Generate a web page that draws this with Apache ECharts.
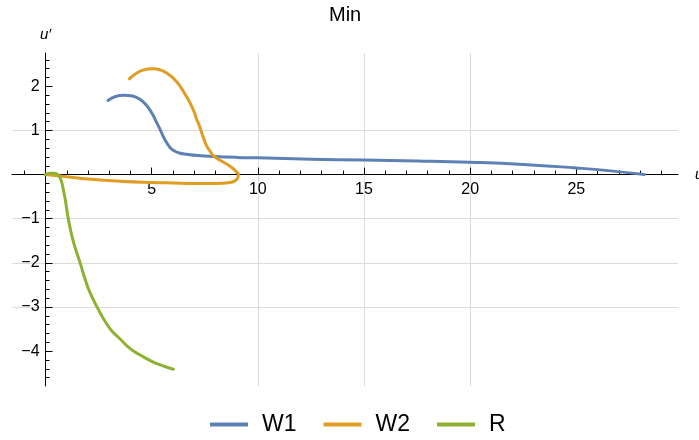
<!DOCTYPE html>
<html>
<head>
<meta charset="utf-8">
<script src="https://cdn.jsdelivr.net/npm/echarts@6/dist/echarts.min.js"></script>
<style>html,body{margin:0;padding:0;background:#fff}#c{width:699px;height:440px}</style>
</head>
<body>
<div id="c"></div>
<script>
// Data: [u, u'] pairs
const seriesNames = ['W1', 'W2', 'R'];
const w1 = [[2.94,1.68],[3.3,1.77],[3.67,1.80],[4.1,1.78],[4.46,1.70],[4.75,1.57],[5.0,1.40],[5.2,1.21],[5.4,1.02],[5.55,0.86],[5.71,0.72],[5.87,0.61],[6.05,0.54],[6.3,0.49],[6.65,0.46],[7.2,0.43],[7.9,0.41],[9,0.39],[10,0.38],[12.5,0.35],[15,0.33],[17.5,0.31],[20,0.28],[22.5,0.23],[25,0.15],[26.5,0.09],[28.2,0.0]];
const w2 = [[3.95,2.17],[4.4,2.33],[4.8,2.39],[5.1,2.40],[5.4,2.37],[5.71,2.30],[6.05,2.17],[6.34,2.0],[6.6,1.8],[6.81,1.62],[7.0,1.42],[7.12,1.25],[7.25,1.1],[7.36,0.94],[7.48,0.78],[7.6,0.64],[7.75,0.53],[7.9,0.43],[8.2,0.33],[8.53,0.24],[8.8,0.15],[8.98,0.07],[9.08,0.0],[9.02,-0.1],[8.7,-0.18],[8.0,-0.2],[7.0,-0.2],[6.0,-0.19],[5.0,-0.18],[3.5,-0.15],[2.0,-0.1],[1.0,-0.05],[0,0]];
const r = [[0,0],[0.2,0.03],[0.4,0.03],[0.55,0.01],[0.68,-0.07],[0.77,-0.19],[0.85,-0.37],[0.93,-0.57],[1.0,-0.79],[1.08,-1.02],[1.3,-1.5],[1.63,-2.0],[1.85,-2.35],[2.1,-2.68],[2.57,-3.13],[3.05,-3.5],[3.5,-3.72],[4.0,-3.95],[4.5,-4.1],[5.0,-4.23],[5.5,-4.33],[6.02,-4.41]];
const xTickLabels = [5, 10, 15, 20, 25];
const yTickLabels = [-4, -3, -2, -1, 1, 2];
const colors = ['#5E81B5', '#E19C24', '#8FB131'];

const W = 699, H = 440;
const grid = {left: 12, right: 21, top: 53, bottom: 54};
const xMin = -1.58, xMax = 29.79, yMin = -4.79, yMax = 2.755;
const gw = W - grid.left - grid.right, gh = H - grid.top - grid.bottom;
// shift axes so they cross at the origin (whole axis incl. labels)
const xOffset = -(gh * (0 - yMin) / (yMax - yMin));
const yOffset = -(gw * (0 - xMin) / (xMax - xMin));

const font = 'Liberation Sans, Arial, sans-serif';
const fmt = v => String(v).replace('-', '\u2212');
const chart = echarts.init(document.getElementById('c'), null, {renderer: 'canvas'});
chart.setOption({
  animation: false,
  color: colors,
  title: {
    text: 'Min', left: 329, top: 5, padding: 0,
    textStyle: {fontSize: 20, fontWeight: 'normal', color: '#000', fontFamily: font}
  },
  legend: {
    data: seriesNames, left: 210, top: 413, padding: 0,
    icon: 'rect', itemWidth: 38, itemHeight: 4, itemGap: 27,
    textStyle: {fontSize: 23, color: '#000', fontFamily: font, padding: [0, 0, 0, 9]}
  },
  grid: Object.assign({outerBoundsMode: 'none', containLabel: false}, grid),
  xAxis: {
    type: 'value', min: xMin, max: xMax, splitNumber: 5, position: 'bottom', offset: xOffset,
    name: 'u', nameLocation: 'end', nameGap: 17,
    nameTextStyle: {fontStyle: 'italic', fontSize: 15, color: '#000', fontFamily: font, verticalAlign: 'middle'},
    axisLine: {onZero: false, lineStyle: {color: '#000', width: 1}},
    axisTick: {show: true, inside: true, length: 7, customValues: xTickLabels, lineStyle: {color: '#000'}},
    minorTick: {show: true, splitNumber: 5, length: 4, lineStyle: {color: '#000'}},
    axisLabel: {customValues: xTickLabels, margin: 7, fontSize: 16, color: '#000', fontFamily: font, formatter: fmt},
    splitLine: {show: true, showMinLine: false, showMaxLine: false, lineStyle: {color: '#dcdcdc', width: 1}}
  },
  yAxis: {
    type: 'value', min: yMin, max: yMax, splitNumber: 8, position: 'left', offset: yOffset,
    name: 'u\u2032', nameLocation: 'end', nameGap: 11,
    nameTextStyle: {fontStyle: 'italic', fontSize: 15, color: '#000', fontFamily: font, align: 'center'},
    axisLine: {onZero: false, lineStyle: {color: '#000', width: 1}},
    axisTick: {show: true, inside: true, length: 7, customValues: yTickLabels, lineStyle: {color: '#000'}},
    minorTick: {show: true, splitNumber: 5, length: 4, lineStyle: {color: '#000'}},
    axisLabel: {customValues: yTickLabels, margin: 6, fontSize: 16, color: '#000', fontFamily: font, formatter: fmt},
    splitLine: {show: true, showMinLine: false, showMaxLine: false, lineStyle: {color: '#dcdcdc', width: 1}}
  },
  series: [
    {name: seriesNames[0], type: 'line', data: w1, showSymbol: false, smooth: 0.5, lineStyle: {width: 3, cap: 'round', join: 'round'}},
    {name: seriesNames[1], type: 'line', data: w2, showSymbol: false, smooth: 0.5, lineStyle: {width: 3, cap: 'round', join: 'round'}},
    {name: seriesNames[2], type: 'line', data: r, showSymbol: false, smooth: 0.5, lineStyle: {width: 3, cap: 'round', join: 'round'}}
  ]
});
</script>
</body>
</html>
